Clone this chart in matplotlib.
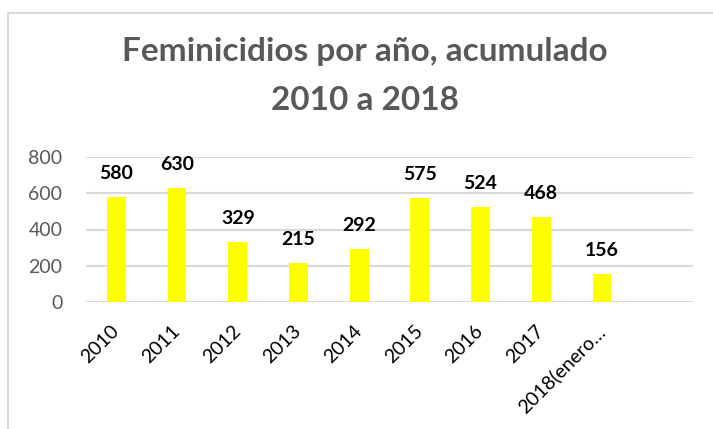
import matplotlib.pyplot as plt
from matplotlib.patches import Rectangle

# datos
years = ["2010", "2011", "2012", "2013", "2014", "2015", "2016", "2017", "2018(enero…", ""]
values = [580, 630, 329, 215, 292, 575, 524, 468, 156, None]
ticks = [0, 200, 400, 600, 800]

plt.rcParams["font.family"] = ["Lato", "DejaVu Sans"]

W, H = 713, 429
fig = plt.figure(figsize=(W / 100, H / 100), dpi=100)

# marco del gráfico (estilo Excel)
fig.patches.append(Rectangle((7.5 / W, -0.1), 1.2, 1 - 13 / H + 0.1, transform=fig.transFigure,
                             fill=False, edgecolor="#d9d9d9", linewidth=1.5))

ax = fig.add_axes([86 / W, 1 - 302 / H, 607 / W, 145 / H])

x = list(range(len(years)))
heights = [v if v is not None else 0 for v in values]
ax.bar(x, heights, width=0.31, color="#ffff00", zorder=3)

for xi, v in zip(x, values):
    if v is None:
        continue
    ax.annotate(str(v), (xi, v), xytext=(0, 13), textcoords="offset points",
                ha="center", va="baseline", fontsize=14, fontweight="bold", color="black")

ax.set_xlim(-0.5, len(years) - 0.5)
ax.set_ylim(0, 800)
ax.set_yticks(ticks)
ax.set_yticklabels([str(t) for t in ticks], fontsize=14, color="#595959")
ax.set_xticks(x)
ax.set_xticklabels(years, rotation=45, ha="right", va="center", rotation_mode="anchor",
                   fontsize=14, color="black")
ax.tick_params(axis="both", length=0)
ax.tick_params(axis="y", pad=17)
ax.tick_params(axis="x", pad=19)
ax.grid(axis="y", color="#d9d9d9", linewidth=1.5, zorder=0)
for s in ax.spines.values():
    s.set_visible(False)

# título en dos líneas
fig.text(365 / W, 1 - 61 / H, "Feminicidios por año, acumulado", ha="center", va="baseline",
         fontsize=24, fontweight="bold", color="#595959")
fig.text(365 / W, 1 - 110 / H, "2010 a 2018", ha="center", va="baseline",
         fontsize=24, fontweight="bold", color="#595959")

fig.savefig("out.png", dpi=100)
